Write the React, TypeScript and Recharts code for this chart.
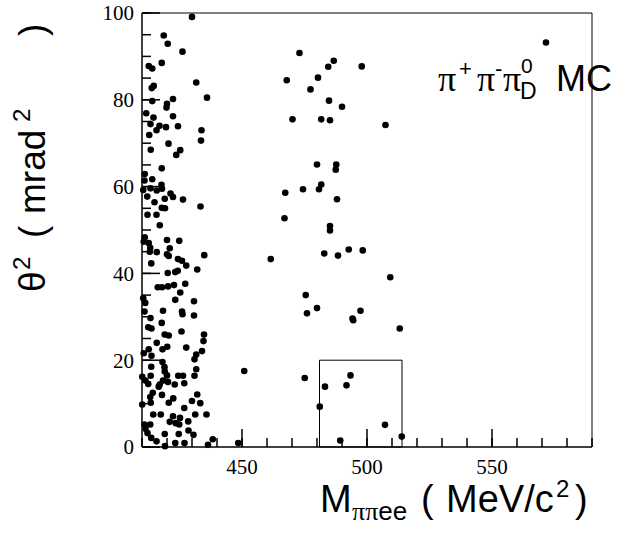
import { ReferenceArea, ReferenceLine, Scatter, ScatterChart, XAxis, YAxis } from "recharts";

// M_pipiee (MeV/c^2) of each MC event
const massValues = [
  430.0, 418.7, 420.3, 426.2, 417.9, 412.7, 414.1, 431.7, 414.7, 413.9, 436.0, 422.4, 414.1, 420.0, 419.8,
  411.7, 414.6, 422.4, 413.4, 417.0, 419.6, 424.4, 415.8, 433.8, 412.9, 433.6, 420.6, 413.5, 425.3, 423.7,
  417.9, 411.1, 414.1, 411.0, 417.8, 418.0, 413.4, 410.5, 415.9, 421.4, 422.4, 412.1, 419.1, 426.4, 415.0,
  433.4, 417.9, 419.2, 412.2, 415.8, 417.1, 411.1, 410.7, 412.7, 420.0, 424.9, 413.3, 421.1, 413.1, 415.9,
  420.0, 420.7, 434.9, 424.4, 426.0, 427.7, 413.7, 432.1, 420.3, 423.3, 424.3, 427.3, 416.3, 418.0, 420.4,
  422.8, 425.3, 410.5, 411.3, 423.3, 430.8, 411.0, 418.4, 426.0, 426.2, 430.8, 413.4, 417.9, 412.5, 413.8,
  425.8, 419.1, 420.7, 434.8, 434.6, 415.9, 412.7, 420.1, 418.2, 427.7, 434.0, 410.7, 413.8, 431.7, 431.0,
  418.2, 413.7, 419.0, 431.7, 419.1, 450.9, 410.1, 413.5, 420.0, 424.5, 426.4, 431.0, 411.4, 412.5, 418.4,
  420.4, 423.1, 426.9, 417.1, 416.7, 414.3, 413.3, 418.0, 432.1, 422.5, 430.0, 433.3, 420.7, 413.5, 410.1,
  426.9, 414.5, 417.5, 431.3, 435.8, 422.4, 425.2, 421.1, 423.5, 428.5, 424.9, 411.0, 413.3, 411.4, 428.6,
  412.2, 419.1, 424.7, 430.6, 413.7, 415.8, 438.3, 423.3, 427.0, 436.4, 419.2, 448.5,
  473.0, 486.7, 484.5, 497.9, 467.9, 480.4, 477.4, 484.8, 490.0, 470.2, 481.7, 485.2, 507.4,
  480.0, 487.7, 487.5, 467.3, 474.4, 481.7, 480.8, 488.0, 467.0, 485.2, 485.2, 461.5, 482.9, 488.4, 492.7,
  498.3, 509.3, 475.5, 476.0, 480.0, 497.4, 494.2, 494.5, 513.1, 475.1, 493.4, 483.2, 491.8, 481.1, 507.2,
  489.3, 513.9, 571.6,
];

// theta^2 (mrad^2), same order
const thetaValues = [
  99.1, 94.8, 92.9, 91.1, 88.5, 87.8, 87.2, 84.0, 83.2, 82.7, 80.5, 80.2, 79.7, 79.1, 78.2,
  76.9, 75.9, 76.2, 74.4, 74.0, 73.7, 73.9, 73.0, 73.0, 71.9, 70.6, 69.9, 68.5, 68.4, 67.3,
  64.2, 62.9, 61.7, 61.4, 60.4, 59.5, 59.6, 59.2, 59.1, 58.4, 57.6, 57.7, 57.2, 57.0, 56.4,
  55.4, 55.1, 55.0, 53.5, 53.5, 51.1, 48.3, 47.3, 47.0, 47.7, 47.5, 45.9, 45.8, 45.0, 44.9,
  44.4, 44.0, 44.2, 43.3, 42.9, 41.8, 42.3, 40.9, 40.1, 40.3, 40.6, 37.6, 36.8, 36.8, 37.0,
  37.3, 35.6, 34.3, 33.2, 33.9, 33.6, 31.2, 31.4, 31.2, 30.6, 30.3, 29.7, 28.6, 27.6, 27.3,
  26.6, 25.9, 25.7, 25.9, 24.4, 24.0, 22.5, 23.1, 22.5, 22.9, 22.1, 21.6, 21.0, 21.3, 20.2,
  19.6, 18.5, 18.4, 17.9, 17.4, 17.5, 16.2, 16.4, 16.5, 16.4, 16.4, 16.4, 15.3, 14.5, 15.3,
  15.0, 14.4, 14.7, 14.4, 13.9, 12.5, 11.5, 12.0, 12.1, 11.2, 10.6, 10.1, 10.2, 10.2, 9.8,
  9.0, 7.5, 7.5, 7.5, 7.5, 7.1, 6.7, 5.8, 5.5, 5.9, 5.2, 5.2, 5.2, 4.2, 3.8,
  3.2, 3.0, 3.0, 2.8, 2.1, 1.3, 1.8, 0.9, 0.9, 0.5, 0.2, 0.9,
  90.8, 89.0, 87.6, 87.7, 84.5, 85.1, 82.4, 79.8, 78.4, 75.5, 75.5, 75.3, 74.2,
  65.1, 65.1, 63.9, 58.6, 59.4, 60.5, 59.4, 57.1, 52.7, 50.9, 49.9, 43.3, 44.6, 44.1, 45.5,
  45.3, 39.1, 35.0, 30.8, 32.0, 31.4, 29.6, 29.2, 27.3, 15.9, 16.5, 13.9, 14.2, 9.3, 5.1,
  1.5, 2.4, 93.2,
];

const xTicks = [410, 420, 430, 440, 450, 460, 470, 480, 490, 500, 510, 520, 530, 540, 550, 560, 570, 580, 590];
const xLabels = [450, 500, 550];
const yTicks = [0, 5, 10, 15, 20, 25, 30, 35, 40, 45, 50, 55, 60, 65, 70, 75, 80, 85, 90, 95, 100];
const yLabels = [0, 20, 40, 60, 80, 100];

// signal window
const boxMass = [481, 514];
const boxTheta = [0, 20];

const points = massValues.map((m, i) => ({ m, t: thetaValues[i] }));

const serif = "'Liberation Serif', 'Times New Roman', serif";
const sans = "'Liberation Sans', Arial, sans-serif";

// ROOT-style inward ticks: the axis draws the short (minor) tick, labelled ticks get a longer mark
const MINOR = 9;
const MAJOR = 18;

function XTick(props: any) {
  const { x, y, payload } = props;
  const v = payload.value;
  if (!xLabels.includes(v)) return null;
  return (
    <g>
      <line x1={x} x2={x} y1={y} y2={y - MAJOR} stroke="#000" strokeWidth={1.5} />
      <text x={x} y={y + 27} textAnchor="middle" fontFamily={serif} fontSize={21} fill="#000">
        {v}
      </text>
    </g>
  );
}

function YTick(props: any) {
  const { x, y, payload } = props;
  const v = payload.value;
  if (!yLabels.includes(v)) return null;
  return (
    <g>
      <line x1={x} x2={x + MAJOR} y1={y} y2={y} stroke="#000" strokeWidth={1.5} />
      <text x={x - 8} y={y} dy="0.35em" textAnchor="end" fontFamily={serif} fontSize={21} fill="#000">
        {v}
      </text>
    </g>
  );
}

export default function App() {
  return (
    <div style={{ position: "absolute", left: 0, top: 0, width: 630, height: 534, background: "#fff" }}>
      <ScatterChart width={630} height={534} margin={{ top: 13, right: 38, left: 82, bottom: 47 }}>
        <ReferenceLine y={100} stroke="#000" strokeWidth={1} />
        <ReferenceLine x={590} stroke="#000" strokeWidth={1} />
        <ReferenceArea
          x1={boxMass[0]}
          x2={boxMass[1]}
          y1={boxTheta[0]}
          y2={boxTheta[1]}
          fill="none"
          fillOpacity={0}
          stroke="#000"
          strokeWidth={1}
        />
        <Scatter
          data={points}
          fill="#000"
          isAnimationActive={false}
          shape={(p: any) => <circle cx={p.cx} cy={p.cy} r={3.3} fill="#000" />}
        />
        <XAxis
          type="number"
          dataKey="m"
          domain={[410, 590]}
          ticks={xTicks}
          interval={0}
          height={40}
          tickSize={-MINOR}
          tickMargin={MINOR}
          tickLine={{ stroke: "#000", strokeWidth: 1.5 }}
          axisLine={{ stroke: "#000", strokeWidth: 1.5 }}
          tick={<XTick />}
        />
        <YAxis
          type="number"
          dataKey="t"
          domain={[0, 100]}
          ticks={yTicks}
          interval={0}
          width={60}
          tickSize={-MINOR}
          tickMargin={MINOR}
          tickLine={{ stroke: "#000", strokeWidth: 1.5 }}
          axisLine={{ stroke: "#000", strokeWidth: 1.5 }}
          tick={<YTick />}
        />
      </ScatterChart>
      <svg
        width={630}
        height={534}
        style={{ position: "absolute", left: 0, top: 0, pointerEvents: "none" }}
      >
        <text transform="rotate(-90)" y={45} fontFamily={sans} fontSize={37} fill="#000">
          <tspan x={-292}>θ</tspan>
          <tspan x={-270} fontSize={24} dy={-15}>2</tspan>
          <tspan x={-238} dy={15}>(</tspan>
          <tspan x={-214}>mrad</tspan>
          <tspan x={-122} fontSize={24} dy={-15}>2</tspan>
          <tspan x={-36} dy={15}>)</tspan>
        </text>
        <text y={512} fontFamily={sans} fontSize={38} fill="#000">
          <tspan x={320}>M</tspan>
          <tspan x={352} fontSize={26} dy={8} fontFamily={serif}>ππ</tspan>
          <tspan fontSize={26}>ee</tspan>
          <tspan x={421} dy={-8}>(</tspan>
          <tspan x={446}>MeV/c</tspan>
          <tspan x={556} fontSize={24} dy={-15}>2</tspan>
          <tspan x={575} dy={15}>)</tspan>
        </text>
        <text y={91} fontFamily={sans} fontSize={36} fill="#000">
          <tspan x={438} fontFamily={serif}>π</tspan>
          <tspan x={459} fontSize={22} dy={-15}>+</tspan>
          <tspan x={477} dy={15} fontFamily={serif}>π</tspan>
          <tspan x={495} fontSize={22} dy={-15}>-</tspan>
          <tspan x={503} dy={15} fontFamily={serif}>π</tspan>
          <tspan x={521} fontSize={21} dy={-18}>0</tspan>
          <tspan x={520} fontSize={23} dy={26}>D</tspan>
          <tspan x={556} dy={-8}>MC</tspan>
        </text>
      </svg>
    </div>
  );
}
